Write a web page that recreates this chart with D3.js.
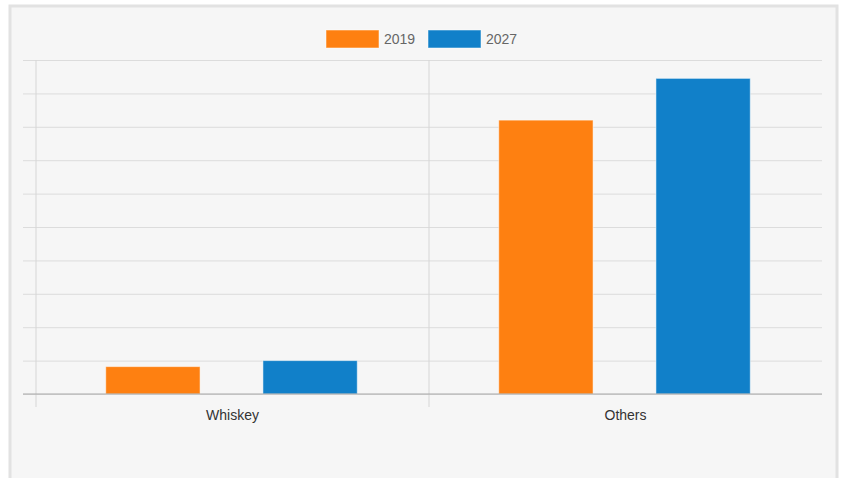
<!DOCTYPE html>
<html lang='en'>
<head>
   <meta charset='UTF-8'>
   <title>Whiskey vs Others</title>
   <script src='https://d3js.org/d3.v7.min.js'></script>
   <style>
      body { margin: 0; background: #fff; }
      svg { display: block; font-family: 'Liberation Sans', Arial, sans-serif; }
   </style>
</head>
<body>
   <div id='chart'></div>
   <script>
      const categories = ['Whiskey', 'Others'];
      const years = ['2019', '2027'];
      const values2019 = [0.82, 8.2];
      const values2027 = [1.0, 9.45];
      const colours = ['#fe8011', '#1180c9'];

      const W = 842, H = 478;
      const plot = { left: 36, right: 822, top: 60, bottom: 394 };

      const svg = d3.select('#chart').append('svg').attr('width', W).attr('height', H);

      // panel
      svg.append('rect')
         .attr('x', 10).attr('y', 6).attr('width', 827).attr('height', 480)
         .attr('fill', '#f6f6f6').attr('stroke', '#e2e2e2').attr('stroke-width', 3);

      const x0 = d3.scaleBand().domain(categories).range([plot.left, plot.right]);
      const x1 = d3.scaleBand().domain(years).range([0, x0.bandwidth()])
         .paddingInner(0.4).paddingOuter(0.45);
      const y = d3.scaleLinear().domain([0, 10]).range([plot.bottom, plot.top]);

      // horizontal grid (starts 13px left of the axis)
      const yAxis = d3.axisLeft(y).ticks(10).tickSize(-(plot.right - plot.left + 13)).tickFormat('');
      svg.append('g').attr('transform', `translate(${plot.left - 13},0)`).call(yAxis)
         .call(g => g.select('.domain').remove())
         .call(g => g.selectAll('.tick line').attr('stroke', '#dcdcdc'));

      // vertical separators
      const seps = [plot.left, plot.left + x0.step()];
      svg.selectAll('.sep').data(seps).join('line')
         .attr('x1', d => d).attr('x2', d => d)
         .attr('y1', plot.top).attr('y2', plot.bottom + 13)
         .attr('stroke', '#d6d6d6');

      // bars
      const series = [values2019, values2027];
      const groups = svg.selectAll('.grp').data(categories).join('g')
         .attr('transform', d => `translate(${x0(d) - 1},0)`);
      groups.selectAll('rect')
         .data((c, i) => years.map((yr, k) => ({ yr, v: series[k][i], k })))
         .join('rect')
         .attr('x', d => x1(d.yr))
         .attr('width', x1.bandwidth())
         .attr('y', d => y(d.v))
         .attr('height', d => y(0) - y(d.v))
         .attr('fill', d => colours[d.k])
         .attr('stroke', 'rgba(255,255,255,0.5)')
         .attr('stroke-width', 1);

      // baseline
      svg.append('line')
         .attr('x1', plot.left - 13).attr('x2', plot.right)
         .attr('y1', plot.bottom).attr('y2', plot.bottom)
         .attr('stroke', '#a8a8a8');

      // category labels
      const xAxis = d3.axisBottom(x0).tickSize(0).tickPadding(16);
      svg.append('g').attr('transform', `translate(0,${plot.bottom})`).call(xAxis)
         .call(g => g.select('.domain').remove())
         .call(g => g.selectAll('text').attr('font-size', 14).attr('fill', '#333')
            .attr('font-family', "'Liberation Sans', Arial, sans-serif"));

      // legend
      const legend = svg.append('g').attr('transform', 'translate(326,30)');
      const items = legend.selectAll('g').data(years).join('g')
         .attr('transform', (d, i) => `translate(${i * 102},0)`);
      items.append('rect').attr('width', 53).attr('height', 18)
         .attr('fill', (d, i) => colours[i])
         .attr('stroke', 'rgba(255,255,255,0.5)');
      items.append('text').attr('x', 58).attr('y', 14)
         .attr('font-size', 14).attr('fill', '#666').text(d => d);
   </script>
</body>
</html>
